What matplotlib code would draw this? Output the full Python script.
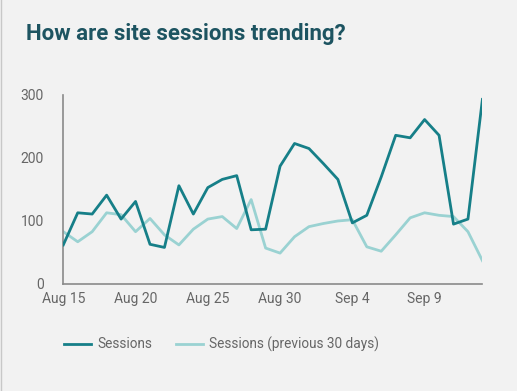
#!/usr/bin/env python3
# Site sessions trend: this period vs previous 30 days
import numpy as np
import pandas as pd
import matplotlib
matplotlib.use("Agg")
import matplotlib.pyplot as plt
from matplotlib.lines import Line2D

dates = pd.date_range("2023-08-15", periods=30, freq="D")
sessions = [62, 113, 111, 141, 103, 131, 63, 58, 156, 111,
            153, 166, 172, 86, 87, 187, 223, 215, 191, 166,
            97, 109, 170, 236, 232, 261, 236, 95, 103, 293]
sessions_prev = [83, 67, 83, 113, 110, 83, 104, 78, 62, 87,
                 103, 107, 88, 134, 57, 49, 75, 91, 96, 100,
                 102, 59, 52, 78, 105, 113, 109, 107, 83, 37]
tick_dates = pd.to_datetime(["2023-08-15", "2023-08-20", "2023-08-25",
                             "2023-08-30", "2023-09-04", "2023-09-09"])
tick_labels = ["Aug 15", "Aug 20", "Aug 25", "Aug 30", "Sep 4", "Sep 9"]

bg = "#f2f2f2"
dark = "#167f88"
light = "#9ad2d2"
grey = "#666666"

plt.rcParams["font.family"] = ["Roboto", "DejaVu Sans"]

fig = plt.figure(figsize=(5.17, 3.91), dpi=100, facecolor=bg)
ax = fig.add_axes([0.1224, 0.2737, 0.8107, 0.4834], facecolor=bg)

ax.plot(dates, sessions_prev, color=light, lw=2, label="Sessions (previous 30 days)", zorder=2)
ax.plot(dates, sessions, color=dark, lw=2, label="Sessions", zorder=3)

ax.set_xlim(dates[0], dates[-1])
ax.set_ylim(0, 300)
ax.set_yticks([0, 100, 200, 300])
ax.set_xticks(tick_dates)
ax.set_xticklabels(tick_labels)
ax.tick_params(length=0, colors=grey, labelsize=10)
ax.tick_params(axis="x", pad=6)
ax.tick_params(axis="y", pad=14)
for s in ["top", "right"]:
    ax.spines[s].set_visible(False)
for s in ["left", "bottom"]:
    ax.spines[s].set_color("#8a8a8a")
    ax.spines[s].set_linewidth(1.2)

# thin border on the left edge of the card
fig.add_artist(Line2D([0.001, 0.001], [0, 1], transform=fig.transFigure, color="#c8c8c8", lw=1))

fig.text(26 / 517, 1 - 34 / 391, "How are site sessions trending?", fontsize=16,
         fontweight="bold", color="#1d5461", va="center", ha="left")

handles, labels = ax.get_legend_handles_labels()
fig.legend(handles[::-1], labels[::-1], loc="center left", bbox_to_anchor=(52 / 517, 1 - 344 / 391),
           ncol=2, frameon=False, fontsize=9.8, labelcolor=grey, handlelength=2.0,
           handletextpad=0.45, columnspacing=1.7)

fig.savefig("out.png", dpi=100, facecolor=bg)
